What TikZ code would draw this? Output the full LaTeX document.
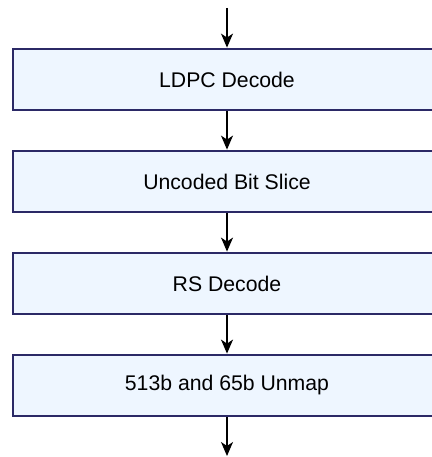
\documentclass[tikz,border=0pt]{standalone}
\usepackage{fontspec}
\setmainfont{Liberation Sans}
\usetikzlibrary{positioning,arrows.meta}
\definecolor{boxline}{HTML}{2B2966}
\definecolor{boxfill}{HTML}{EEF6FF}
\begin{document}
\begin{tikzpicture}[x=1bp, y=1bp,
		stage/.style={draw=boxline, line width=2.8bp, fill=boxfill, minimum width=428bp, minimum height=61bp, inner sep=0pt, font=\fontsize{21.3}{25}\selectfont},
		flow/.style={-{Stealth[length=14bp, width=12bp, inset=4bp]}, line width=1.4bp}]
		\useasboundingbox (0,0) rectangle (431,457);

		% Receive chain
		\node[stage] (ldpc) at (227,377.5) {LDPC Decode};
		\node[stage, below=38.2bp of ldpc] (slice) {Uncoded Bit Slice};
		\node[stage, below=38.2bp of slice] (rs) {RS Decode};
		\node[stage, below=38.2bp of rs] (unmap) {513b and 65b Unmap};

		% In and out
		\coordinate (in) at (227,449);
		\coordinate (out) at (227,1);

		\draw[flow] (in) -- (ldpc);
		\draw[flow] (ldpc) -- (slice);
		\draw[flow] (slice) -- (rs);
		\draw[flow] (rs) -- (unmap);
		\draw[flow] (unmap) -- (out);
	\end{tikzpicture}
\end{document}
